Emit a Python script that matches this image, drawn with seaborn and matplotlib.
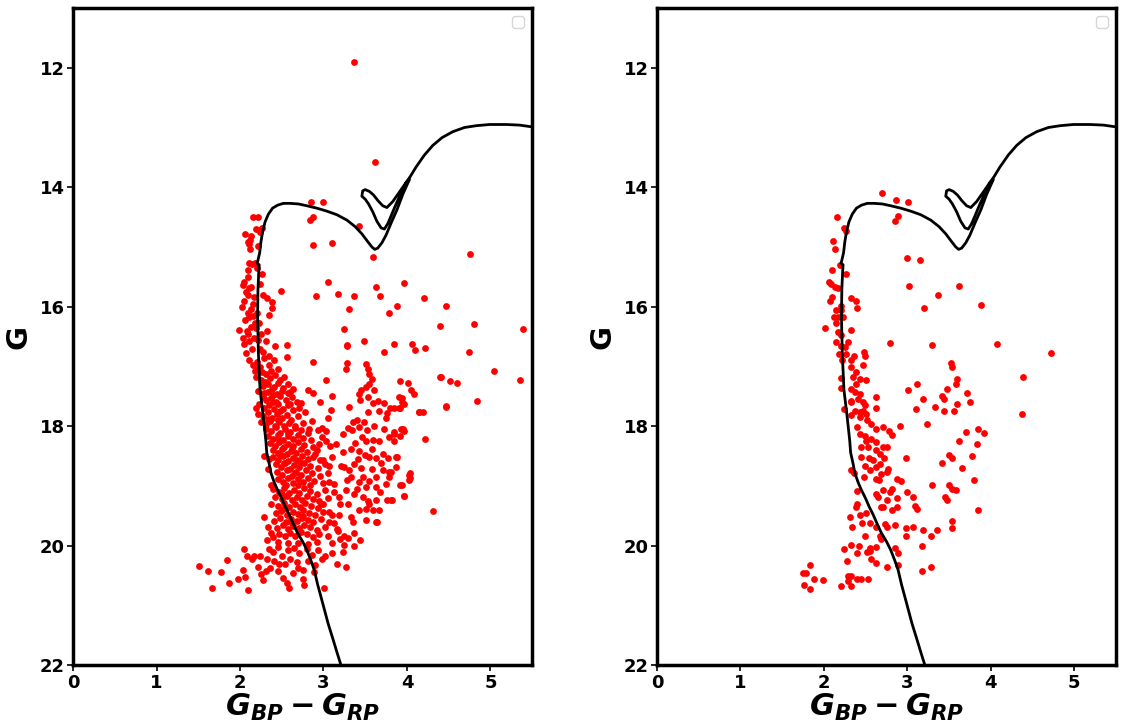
import numpy as np
import pandas as pd
import matplotlib
matplotlib.use("Agg")
import matplotlib.pyplot as plt
import seaborn as sns

# ---------------- isochrone (BP-RP, G) ----------------
iso_color = [3.21, 3.165, 3.115, 3.055, 2.99, 2.93, 2.89, 2.85, 2.80, 2.75, 2.69, 2.64, 2.59, 2.54,
             2.50, 2.45, 2.41, 2.37, 2.35, 2.32, 2.31, 2.28, 2.24, 2.22, 2.21, 2.215, 2.225,
             2.23, 2.205, 2.215, 2.235, 2.25, 2.27, 2.30, 2.34, 2.39, 2.45, 2.52, 2.60, 2.70,
             2.80, 2.92, 3.04, 3.16, 3.28, 3.38, 3.46, 3.53, 3.58, 3.615, 3.65, 3.70, 3.75,
             3.81, 3.88, 3.95, 4.03, 3.99, 3.93, 3.87, 3.81, 3.77, 3.73, 3.69, 3.64, 3.59,
             3.54, 3.50, 3.46, 3.47, 3.50, 3.55, 3.60, 3.65, 3.71, 3.76, 3.83, 3.90, 3.97,
             4.04, 4.11, 4.21, 4.31, 4.42, 4.55, 4.69, 4.83, 4.99, 5.19, 5.35, 5.50]
iso_mag = [22.0, 21.8, 21.57, 21.3, 20.96, 20.65, 20.41, 20.25, 20.07, 19.93, 19.79, 19.64, 19.48, 19.34,
           19.21, 19.07, 18.94, 18.78, 18.63, 18.44, 18.25, 17.86, 17.39, 16.78, 16.16, 15.70, 15.40,
           15.30, 15.27, 15.22, 15.10, 14.92, 14.75, 14.58, 14.45, 14.35, 14.30, 14.27, 14.27, 14.28,
           14.31, 14.35, 14.40, 14.46, 14.55, 14.66, 14.78, 14.91, 15.00, 15.04, 15.02, 14.93, 14.80,
           14.60, 14.38, 14.12, 13.87, 13.92, 14.10, 14.28, 14.48, 14.61, 14.70, 14.68, 14.57, 14.41,
           14.28, 14.20, 14.15, 14.06, 14.04, 14.07, 14.13, 14.22, 14.31, 14.34, 14.24, 14.10, 13.96,
           13.82, 13.66, 13.46, 13.30, 13.17, 13.07, 13.00, 12.97, 12.95, 12.95, 12.96, 12.99]

# ---------------- left panel: all stars ----------------
left_upper_ms = [
    (2.15, 14.50), (2.22, 14.50), (2.06, 14.78), (2.13, 14.81), (2.12, 14.89), (2.11, 14.95), (2.09, 14.92),
    (2.12, 15.03), (2.23, 14.71), (2.24, 14.75), (2.22, 14.98), (2.19, 14.70), (2.26, 14.68), (2.11, 15.27),
    (2.09, 15.38), (2.18, 15.26), (2.26, 15.45), (2.14, 15.28), (2.05, 15.59), (2.03, 15.63), (2.13, 15.67),
    (2.11, 15.69), (2.49, 15.74), (2.07, 15.76), (2.09, 15.81), (2.05, 15.90), (2.17, 15.84), (2.27, 15.80),
    (2.32, 15.85), (2.38, 15.92), (2.38, 16.02), (2.35, 16.14), (2.13, 16.03), (2.09, 16.11), (2.11, 16.18),
    (2.15, 16.15), (2.18, 16.27), (2.13, 16.34), (2.19, 16.36), (2.23, 16.27), (2.25, 16.45), (1.99, 16.39),
    (2.03, 16.52), (2.32, 16.41), (2.06, 16.22), (2.10, 16.46), (2.17, 16.53), (2.05, 16.62), (2.11, 16.58),
    (2.21, 16.56), (2.24, 16.70), (2.31, 16.58), (2.42, 16.66), (2.56, 16.64), (2.56, 16.84), (2.35, 16.83),
    (2.29, 16.85), (2.20, 16.93), (2.11, 16.89), (2.07, 16.78), (2.24, 17.01), (2.35, 16.97), (2.41, 16.89),
    (2.18, 17.08), (2.31, 17.12), (2.15, 16.98), (2.27, 16.75), (2.14, 16.70), (2.08, 16.40), (2.20, 16.10),
    (2.02, 16.00), (2.16, 15.95), (2.24, 15.62), (2.10, 15.50), (2.20, 15.35)]

left_mid_ms = [
    (2.19, 17.18), (2.25, 17.22), (2.30, 17.26), (2.36, 17.19), (2.42, 17.15), (2.48, 17.23), (2.53, 17.17),
    (2.28, 17.33), (2.34, 17.29), (2.41, 17.34), (2.45, 17.27), (2.51, 17.36), (2.57, 17.30), (2.22, 17.41),
    (2.33, 17.43), (2.38, 17.37), (2.44, 17.46), (2.50, 17.41), (2.60, 17.42), (2.82, 17.39), (2.88, 17.45),
    (2.27, 17.51), (2.31, 17.56), (2.37, 17.52), (2.43, 17.59), (2.48, 17.49), (2.55, 17.56), (2.62, 17.51),
    (2.68, 17.59), (2.23, 17.63), (2.29, 17.69), (2.35, 17.64), (2.41, 17.71), (2.46, 17.63), (2.52, 17.71),
    (2.58, 17.65), (2.64, 17.73), (2.73, 17.61), (2.96, 17.60), (2.21, 17.79), (2.27, 17.83), (2.33, 17.77),
    (2.38, 17.86), (2.44, 17.79), (2.50, 17.87), (2.56, 17.81), (2.61, 17.89), (2.70, 17.83), (2.78, 17.77),
    (2.25, 17.93), (2.31, 17.96), (2.36, 17.91), (2.42, 17.99), (2.47, 17.93), (2.53, 17.99), (2.59, 17.94),
    (2.66, 17.99), (2.75, 17.94), (2.86, 17.92), (2.20, 17.05), (2.26, 17.10), (2.37, 17.08), (2.45, 17.05),
    (2.29, 17.45), (2.39, 17.60), (2.34, 17.88), (2.45, 17.90), (2.19, 17.70), (2.57, 17.45), (2.64, 17.38),
    (2.60, 17.62), (2.48, 17.75), (2.71, 17.70), (2.40, 17.48)]

left_lower_ms = [
    (2.31, 18.04), (2.37, 18.08), (2.43, 18.02), (2.48, 18.11), (2.54, 18.05), (2.60, 18.09), (2.66, 18.03),
    (2.73, 18.07), (2.81, 18.11), (2.93, 18.06), (3.03, 18.08), (2.34, 18.16), (2.40, 18.21), (2.46, 18.14),
    (2.51, 18.23), (2.57, 18.17), (2.63, 18.21), (2.69, 18.14), (2.76, 18.19), (2.85, 18.23), (2.98, 18.18),
    (2.36, 18.28), (2.42, 18.33), (2.47, 18.26), (2.53, 18.35), (2.58, 18.29), (2.64, 18.33), (2.70, 18.26),
    (2.77, 18.31), (2.87, 18.35), (2.95, 18.30), (3.08, 18.33), (2.39, 18.40), (2.45, 18.45), (2.50, 18.38),
    (2.56, 18.47), (2.61, 18.41), (2.67, 18.45), (2.73, 18.38), (2.80, 18.43), (2.90, 18.47), (2.40, 18.52),
    (2.46, 18.57), (2.52, 18.50), (2.57, 18.59), (2.63, 18.53), (2.68, 18.57), (2.74, 18.50), (2.81, 18.55),
    (2.88, 18.52), (2.99, 18.56), (3.10, 18.52), (2.43, 18.64), (2.49, 18.69), (2.54, 18.62), (2.60, 18.71),
    (2.65, 18.65), (2.71, 18.69), (2.77, 18.62), (2.84, 18.67), (2.93, 18.70), (3.02, 18.64), (2.44, 18.76),
    (2.50, 18.81), (2.56, 18.74), (2.62, 18.83), (2.67, 18.77), (2.73, 18.81), (2.79, 18.74), (2.86, 18.79),
    (2.96, 18.83), (3.06, 18.78), (2.46, 18.88), (2.52, 18.93), (2.58, 18.86), (2.63, 18.95), (2.69, 18.89),
    (2.75, 18.93), (2.81, 18.86), (2.89, 18.91), (2.99, 18.95), (2.37, 18.98), (2.55, 18.98), (2.70, 18.99),
    (2.84, 18.98), (2.45, 18.20), (2.62, 18.38), (2.53, 18.62), (2.66, 18.78), (2.35, 18.55), (2.92, 18.40),
    (2.29, 18.50), (2.33, 18.72), (2.58, 18.12), (2.72, 18.60), (2.48, 18.48)]

left_faint_ms = [
    (2.40, 19.05), (2.47, 19.10), (2.53, 19.03), (2.59, 19.12), (2.65, 19.06), (2.71, 19.11), (2.77, 19.04),
    (2.84, 19.09), (2.92, 19.13), (3.02, 19.07), (3.13, 19.10), (2.42, 19.18), (2.50, 19.22), (2.56, 19.16),
    (2.62, 19.24), (2.68, 19.19), (2.74, 19.23), (2.80, 19.17), (2.87, 19.21), (2.95, 19.25), (3.06, 19.20),
    (2.37, 19.30), (2.45, 19.34), (2.53, 19.28), (2.59, 19.36), (2.66, 19.31), (2.72, 19.35), (2.78, 19.29),
    (2.85, 19.33), (2.93, 19.37), (3.00, 19.30), (2.29, 19.52), (2.43, 19.46), (2.49, 19.42), (2.56, 19.48),
    (2.63, 19.43), (2.70, 19.47), (2.76, 19.41), (2.83, 19.45), (2.90, 19.49), (3.00, 19.44), (3.10, 19.48),
    (2.33, 19.68), (2.41, 19.58), (2.48, 19.54), (2.55, 19.60), (2.61, 19.55), (2.68, 19.59), (2.74, 19.53),
    (2.81, 19.57), (2.88, 19.61), (2.97, 19.56), (3.07, 19.60), (2.37, 19.78), (2.44, 19.70), (2.51, 19.66),
    (2.58, 19.72), (2.64, 19.67), (2.71, 19.71), (2.77, 19.65), (2.84, 19.69), (2.92, 19.73), (3.02, 19.68),
    (3.16, 19.72), (2.32, 19.90), (2.40, 19.86), (2.47, 19.80), (2.54, 19.84), (2.60, 19.79), (2.66, 19.83),
    (2.73, 19.77), (2.80, 19.81), (2.87, 19.85), (2.95, 19.80), (3.05, 19.84), (3.20, 19.88), (2.45, 19.94),
    (2.57, 19.96), (2.69, 19.95), (2.82, 19.97), (2.92, 19.93), (3.10, 19.96), (2.52, 19.38), (2.62, 19.62),
    (2.75, 19.50), (2.50, 19.14)]

left_bottom = [
    (1.51, 20.34), (1.62, 20.43), (1.67, 20.71), (1.77, 20.44), (1.84, 20.24), (1.87, 20.62), (1.98, 20.55),
    (2.05, 20.05), (2.04, 20.41), (2.06, 20.53), (2.09, 20.74), (2.08, 20.18), (2.14, 20.22), (2.17, 20.18),
    (2.24, 20.18), (2.22, 20.35), (2.25, 20.48), (2.28, 20.57), (2.31, 20.43), (2.39, 20.10), (2.41, 20.26),
    (2.46, 20.43), (2.51, 20.54), (2.59, 20.71), (2.50, 20.18), (2.54, 20.30), (2.63, 20.45), (2.76, 20.55),
    (2.77, 20.66), (2.76, 20.41), (3.01, 20.71), (2.89, 20.44), (3.16, 20.31), (3.27, 20.35), (3.37, 20.01),
    (3.23, 20.10), (3.10, 20.12), (2.35, 20.05), (2.45, 20.02), (2.58, 20.08), (2.65, 20.04), (2.71, 20.12),
    (2.80, 20.06), (2.86, 20.15), (2.94, 20.08), (3.02, 20.18), (2.60, 20.22), (2.68, 20.28), (2.82, 20.25),
    (2.90, 20.32), (2.47, 20.30), (2.36, 20.38), (2.70, 20.38), (2.56, 20.62), (2.32, 20.22), (2.98, 20.22)]

left_red_cloud = [
    (3.49, 16.58), (3.28, 16.65), (3.85, 16.62), (4.06, 16.62), (4.10, 16.73), (4.22, 16.69), (3.73, 16.75),
    (4.74, 16.76), (3.28, 16.94), (3.27, 17.05), (3.51, 16.96), (3.53, 17.04), (3.55, 17.12), (3.58, 17.21),
    (3.55, 17.29), (3.51, 17.35), (3.45, 17.39), (3.43, 17.46), (3.44, 17.56), (3.53, 17.51), (3.60, 17.40),
    (3.65, 17.58), (3.59, 17.61), (3.72, 17.61), (3.92, 17.24), (4.01, 17.27), (4.05, 17.40), (4.09, 17.46),
    (4.41, 17.17), (4.51, 17.24), (4.60, 17.28), (4.84, 17.58), (4.47, 17.67), (4.15, 17.76), (3.91, 17.51),
    (3.94, 17.59), (3.90, 17.70), (3.80, 17.70), (3.66, 17.74), (3.53, 17.76), (3.30, 17.68), (3.09, 17.73),
    (3.10, 17.50), (3.03, 17.22), (2.87, 16.92), (3.05, 17.86), (2.98, 18.03), (2.83, 18.04), (3.23, 18.13),
    (3.29, 18.03), (3.34, 18.06), (3.35, 17.93), (3.40, 17.89), (3.49, 17.93), (3.43, 18.02), (3.52, 18.07),
    (3.60, 17.99), (3.72, 18.04), (3.75, 17.86), (3.85, 18.10), (3.93, 18.04), (3.85, 18.24), (3.79, 18.18),
    (3.67, 18.24), (3.59, 18.23), (3.51, 18.24), (3.38, 18.28), (3.33, 18.38), (3.23, 18.43), (3.43, 18.41),
    (3.50, 18.49), (3.55, 18.51), (3.63, 18.54), (3.71, 18.46), (3.77, 18.54), (3.87, 18.52), (3.87, 18.68),
    (3.79, 18.77), (3.79, 18.85), (3.92, 18.99), (4.03, 18.81), (4.03, 18.90), (3.96, 19.16), (3.81, 19.23),
    (3.63, 19.23), (3.51, 19.02), (3.43, 18.93), (3.33, 18.85), (3.25, 18.68), (3.21, 18.66), (3.07, 18.66),
    (2.96, 18.56), (3.03, 18.24), (3.31, 18.74), (3.37, 18.63), (3.47, 18.85), (3.55, 18.91), (3.63, 18.85),
    (3.71, 18.74), (3.63, 19.02), (3.75, 18.96), (3.47, 19.19), (3.37, 19.13), (3.27, 19.07), (3.13, 18.96),
    (3.07, 18.93), (3.19, 19.19), (3.29, 19.30), (3.43, 19.41), (3.51, 19.57), (3.63, 19.60), (3.33, 19.52),
    (3.19, 19.49), (3.07, 19.44), (4.31, 19.42), (2.97, 19.30), (3.55, 19.30), (3.67, 19.41), (3.17, 19.76),
    (3.24, 19.83), (3.29, 19.87), (3.36, 19.79), (3.44, 19.91), (3.59, 19.41), (3.64, 19.60), (3.51, 19.39),
    (3.25, 19.99), (3.53, 19.25), (3.76, 19.24), (3.82, 19.24), (3.95, 18.05), (3.97, 18.08), (3.92, 18.17),
    (3.85, 18.13), (4.22, 18.22), (4.04, 18.79), (4.04, 18.87), (3.97, 19.16), (3.94, 18.98), (3.88, 18.52),
    (3.81, 18.77), (3.94, 17.53), (3.97, 17.63), (3.92, 17.70), (3.84, 17.70), (3.76, 17.78), (4.19, 17.77),
    (3.41, 18.55), (3.15, 18.30), (3.28, 18.90), (3.45, 18.70), (3.58, 18.72), (3.68, 19.10), (3.40, 19.05),
    (3.20, 19.30), (3.35, 19.60), (3.12, 19.62), (3.58, 18.38), (3.69, 18.62), (3.46, 18.18)]

left_bright = [
    (3.37, 11.91), (3.62, 13.58), (2.85, 14.24), (3.00, 14.25), (2.84, 14.55), (2.88, 14.49), (3.43, 14.65),
    (2.87, 14.96), (3.10, 14.94), (3.59, 15.17), (3.05, 15.58), (3.63, 15.67), (2.91, 15.82), (3.17, 15.78),
    (3.36, 15.82), (3.68, 15.82), (3.97, 15.61), (4.21, 15.85), (3.88, 15.99), (3.31, 16.03), (3.78, 16.11),
    (4.47, 15.98), (4.40, 16.33), (4.80, 16.29), (5.39, 16.37), (3.25, 16.37), (3.28, 16.64), (4.76, 15.12),
    (5.04, 17.07), (5.35, 17.22), (4.40, 17.18), (4.47, 17.66), (4.15, 17.77)]

# ---------------- right panel: selected members ----------------
right_upper = [
    (2.70, 14.10), (2.86, 14.22), (3.01, 14.25), (2.89, 14.48), (2.85, 14.56), (2.16, 14.49), (2.24, 14.68),
    (2.27, 14.74), (2.11, 14.90), (2.13, 15.04), (2.19, 15.30), (2.10, 15.38), (2.27, 15.45), (2.99, 15.19),
    (3.15, 15.22), (3.02, 15.66), (3.37, 15.81), (3.20, 16.02), (3.62, 15.66), (2.06, 15.59), (2.09, 15.62),
    (2.13, 15.67), (2.17, 15.69), (2.10, 15.84), (2.07, 15.90), (2.33, 15.85), (2.39, 15.91), (2.40, 16.02),
    (2.20, 15.98), (2.15, 16.05), (2.21, 16.06), (2.12, 16.18), (2.17, 16.18), (2.23, 16.18), (2.14, 16.27),
    (2.01, 16.35), (2.17, 16.43), (2.21, 16.47), (2.33, 16.39), (2.15, 16.59), (2.20, 16.65), (2.25, 16.68),
    (2.29, 16.59), (2.18, 16.79), (2.27, 16.79), (2.36, 16.82), (2.48, 16.76), (2.49, 16.83), (2.33, 16.90),
    (2.22, 16.89), (2.47, 16.97), (2.79, 16.60), (3.30, 16.64), (2.33, 17.01), (2.39, 17.09), (2.35, 17.18),
    (2.20, 17.19), (2.43, 17.21), (2.50, 17.23), (2.39, 17.29), (2.32, 17.37), (2.21, 17.36), (2.37, 17.43),
    (2.43, 17.46), (2.33, 17.57), (2.41, 17.54), (2.47, 17.60), (2.63, 17.51), (2.62, 17.69), (2.24, 17.71),
    (2.37, 17.74), (2.47, 17.74), (2.51, 17.79), (2.33, 17.82), (2.43, 17.85), (3.52, 16.94), (3.54, 17.01),
    (3.60, 17.21), (3.58, 17.29), (3.48, 17.37), (3.12, 17.29), (3.01, 17.40), (3.19, 17.54), (3.42, 17.50),
    (3.44, 17.54), (3.33, 17.68), (3.10, 17.72), (3.44, 17.74), (3.56, 17.75), (3.60, 17.62)]

right_lower = [
    (2.33, 17.60), (2.49, 17.65), (2.43, 17.76), (2.52, 17.90), (2.56, 17.96), (2.62, 18.04), (2.71, 18.01),
    (2.78, 18.08), (2.82, 18.15), (2.91, 17.99), (3.24, 17.96), (2.40, 18.01), (2.43, 18.13), (2.49, 18.17),
    (2.50, 18.24), (2.56, 18.21), (2.45, 18.34), (2.53, 18.35), (2.63, 18.27), (2.71, 18.34), (2.75, 18.35),
    (2.63, 18.39), (2.67, 18.46), (2.72, 18.53), (2.54, 18.53), (2.59, 18.57), (2.45, 18.52), (2.98, 18.53),
    (2.49, 18.67), (2.55, 18.74), (2.63, 18.68), (2.67, 18.63), (2.75, 18.77), (2.77, 18.71), (2.69, 18.80),
    (2.33, 18.73), (2.36, 18.78), (2.48, 18.85), (2.62, 18.88), (2.66, 18.90), (2.87, 18.88), (2.92, 18.92),
    (2.81, 19.05), (2.79, 19.10), (2.71, 19.06), (2.63, 19.13), (2.65, 19.19), (2.75, 19.24), (2.40, 19.08),
    (2.88, 19.20), (2.99, 19.10), (3.07, 19.19), (3.30, 18.99), (3.41, 18.62), (3.50, 18.49), (3.54, 18.54),
    (3.50, 18.99), (3.54, 19.05), (3.58, 19.07), (3.45, 19.19), (3.48, 19.23), (3.09, 19.33), (3.11, 19.38),
    (2.87, 19.35), (2.81, 19.41), (2.71, 19.36), (2.69, 19.35), (2.40, 19.30), (2.38, 19.35), (2.51, 19.46),
    (2.43, 19.49), (2.31, 19.52), (2.46, 19.62), (2.55, 19.62), (2.63, 19.68), (2.73, 19.64), (2.75, 19.69),
    (2.85, 19.66), (2.98, 19.70), (3.07, 19.68), (3.19, 19.74), (3.28, 19.83), (3.35, 19.73), (3.54, 19.59),
    (3.53, 19.71), (2.98, 19.84), (3.18, 20.00), (2.67, 19.83), (2.69, 19.88), (2.49, 19.84), (2.34, 19.69),
    (2.32, 19.98), (2.24, 20.06), (2.42, 20.00), (2.55, 20.03), (2.63, 20.02), (2.55, 20.09), (2.85, 20.03),
    (2.89, 20.13), (2.40, 20.13), (2.52, 20.10), (2.57, 20.23), (2.63, 20.29), (2.28, 20.26), (2.75, 20.36),
    (2.89, 20.33), (3.18, 20.42), (3.28, 20.36), (1.83, 20.33), (1.75, 20.45), (1.79, 20.45), (1.88, 20.56),
    (1.99, 20.57), (1.76, 20.65), (1.83, 20.72), (2.20, 20.67), (2.29, 20.50), (2.32, 20.50), (2.40, 20.55),
    (2.45, 20.56), (2.53, 20.55), (2.29, 20.59), (2.32, 20.68)]

right_red = [
    (4.72, 16.77), (4.38, 17.18), (4.37, 17.80), (4.07, 16.63), (3.88, 15.97), (3.72, 17.45), (3.75, 17.60),
    (3.85, 18.05), (3.92, 18.12), (3.84, 18.30), (3.80, 18.90), (3.85, 19.40), (3.70, 18.10), (3.78, 18.50),
    (3.66, 18.70), (3.62, 18.25)]

# ---------------- plotting ----------------
sns.set_theme(style="white")
plt.rcParams["font.family"] = ["DejaVu Sans"]
plt.rcParams["font.weight"] = "bold"
plt.rcParams["text.color"] = "black"
plt.rcParams["axes.labelcolor"] = "black"
plt.rcParams["xtick.color"] = "black"
plt.rcParams["ytick.color"] = "black"
plt.rcParams["mathtext.fontset"] = "custom"
plt.rcParams["mathtext.it"] = "DejaVu Sans:bold:italic"
plt.rcParams["mathtext.rm"] = "DejaVu Sans:bold"
plt.rcParams["mathtext.bf"] = "DejaVu Sans:bold"

left_df = pd.DataFrame(left_upper_ms + left_mid_ms + left_lower_ms + left_faint_ms + left_bottom
                       + left_red_cloud + left_bright, columns=["color", "mag"])
right_df = pd.DataFrame(right_upper + right_lower + right_red, columns=["color", "mag"])
iso_df = pd.DataFrame({"color": iso_color, "mag": iso_mag})

fig = plt.figure(figsize=(11.25, 7.27), dpi=100)
ax1 = fig.add_axes([0.065, 0.085, 0.408, 0.904])
ax2 = fig.add_axes([0.584, 0.085, 0.408, 0.904])

for ax, df in [(ax1, left_df), (ax2, right_df)]:
    sns.scatterplot(data=df, x="color", y="mag", ax=ax, color="red", s=24, linewidth=0, zorder=2)
    sns.lineplot(data=iso_df, x="color", y="mag", ax=ax, sort=False, estimator=None,
                 color="black", linewidth=2, zorder=3)
    ax.set_xlim(0, 5.5)
    ax.set_ylim(22, 11)
    ax.set_xticks([0, 1, 2, 3, 4, 5])
    ax.set_yticks([12, 14, 16, 18, 20, 22])
    ax.tick_params(axis="both", which="major", labelsize=13, length=4, width=1.2,
                   direction="out", bottom=True, left=True, pad=2, colors="black")
    for lab in ax.get_xticklabels() + ax.get_yticklabels():
        lab.set_fontweight("bold")
    for sp in ax.spines.values():
        sp.set_color("black")
        sp.set_linewidth(2.5)
    ax.set_xlabel(r"$G_{BP} - G_{RP}$", fontsize=22, labelpad=0, color="black")
    ax.set_ylabel("G", fontsize=21, fontweight="bold", labelpad=5, color="black")
    ax.grid(False)
    leg = ax.legend(loc="upper right", frameon=True)

fig.savefig("out.png", dpi=100)
